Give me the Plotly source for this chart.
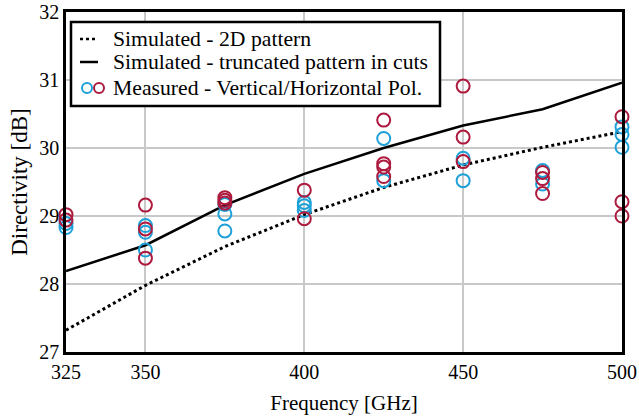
import plotly.graph_objects as go

freq_sim = [325, 350, 375, 400, 425, 450, 475, 500]
sim_2d = [27.32, 27.98, 28.55, 29.02, 29.42, 29.75, 30.01, 30.24]
sim_cuts = [28.19, 28.57, 29.16, 29.62, 30.0, 30.33, 30.57, 30.96]

meas_v_freq = [325, 325, 350, 350, 350, 375, 375, 375, 400, 400, 400, 425, 425, 450, 450, 475, 475, 500, 500, 500]
meas_v = [28.89, 28.83, 28.86, 28.76, 28.5, 29.17, 29.03, 28.78, 29.2, 29.15, 29.08, 30.14, 29.52, 29.85, 29.52, 29.67, 29.47, 30.31, 30.2, 30.01]

meas_h_freq = [325, 325, 350, 350, 350, 375, 375, 375, 400, 400, 425, 425, 425, 425, 450, 450, 450, 475, 475, 475, 500, 500, 500]
meas_h = [29.02, 28.94, 29.16, 28.81, 28.38, 29.27, 29.23, 29.19, 29.38, 28.96, 30.41, 29.77, 29.72, 29.58, 30.91, 30.16, 29.8, 29.64, 29.55, 29.33, 30.46, 29.21, 29.0]

x_ticks = [325, 350, 400, 450, 500]
y_ticks = [27, 28, 29, 30, 31, 32]

legend_labels = ["Simulated - 2D pattern", "Simulated - truncated pattern in cuts",
                 "Measured - Vertical/Horizontal Pol."]

BLUE = "#1ea0d8"
RED = "#ad1a3e"
FONT = "Liberation Serif"

fig = go.Figure()
fig.add_trace(go.Scatter(x=freq_sim, y=sim_2d, mode="lines",
                         line=dict(color="black", width=3, dash="dot"), showlegend=False))
fig.add_trace(go.Scatter(x=freq_sim, y=sim_cuts, mode="lines",
                         line=dict(color="black", width=2.5), showlegend=False))
fig.add_trace(go.Scatter(x=meas_v_freq, y=meas_v, mode="markers", cliponaxis=False,
                         marker=dict(symbol="circle-open", size=13, color=BLUE, line=dict(width=2)),
                         showlegend=False))
fig.add_trace(go.Scatter(x=meas_h_freq, y=meas_h, mode="markers", cliponaxis=False,
                         marker=dict(symbol="circle-open", size=13, color=RED, line=dict(width=2)),
                         showlegend=False))

# Manual legend (plot area: x 66..622 px, y 12..352 px)
def px(xp):
    return (xp - 66) / 556.0

def py(yp):
    return (352 - yp) / 340.0

shapes = []
shapes.append(dict(type="rect", xref="paper", yref="paper", x0=px(71), x1=px(440), y0=py(106), y1=py(22),
                   line=dict(color="black", width=2.5), fillcolor="white", layer="above"))
rows = [39, 62, 88]
shapes.append(dict(type="line", xref="paper", yref="paper", x0=px(80), x1=px(97), y0=py(rows[0]), y1=py(rows[0]),
                   line=dict(color="black", width=2.5, dash="dot"), layer="above"))
shapes.append(dict(type="line", xref="paper", yref="paper", x0=px(80), x1=px(98), y0=py(rows[1]), y1=py(rows[1]),
                   line=dict(color="black", width=2.5), layer="above"))
for cx, col in [(87, BLUE), (99, RED)]:
    shapes.append(dict(type="circle", xref="paper", yref="paper", xsizemode="pixel", ysizemode="pixel",
                       xanchor=px(cx), yanchor=py(rows[2]), x0=-5, x1=5, y0=-5, y1=5,
                       line=dict(color=col, width=2), layer="above"))
fig.update_layout(shapes=shapes)

annotations = []
for r, lab in zip(rows, legend_labels):
    annotations.append(dict(xref="paper", yref="paper", x=px(111), y=py(r), text=lab, showarrow=False,
                            xanchor="left", yanchor="middle", font=dict(family=FONT, size=21.7, color="black")))
fig.update_layout(annotations=annotations)

fig.update_layout(
    width=639, height=419,
    margin=dict(l=66, r=17, t=12, b=67),
    paper_bgcolor="white", plot_bgcolor="white",
    font=dict(family=FONT, size=20, color="black"),
    showlegend=False,
)
fig.update_xaxes(range=[325, 500], tickvals=x_ticks, ticktext=[str(v) for v in x_ticks],
                 showgrid=True, gridcolor="#c8c8c8", gridwidth=1.5,
                 showline=True, linecolor="black", linewidth=2.5, mirror=True,
                 ticks="", zeroline=False, automargin=False,
                 title=dict(text="Frequency [GHz]", font=dict(family=FONT, size=21), standoff=14),
                 tickfont=dict(family=FONT, size=20))
fig.update_yaxes(range=[27, 32], tickvals=y_ticks, ticktext=[str(v) for v in y_ticks],
                 showgrid=True, gridcolor="#c8c8c8", gridwidth=1.5,
                 showline=True, linecolor="black", linewidth=2.5, mirror=True,
                 ticks="", zeroline=False, automargin=False,
                 title=dict(text="Directivity [dB]", font=dict(family=FONT, size=23), standoff=6),
                 tickfont=dict(family=FONT, size=20))

fig.write_html("out.html", config={"displayModeBar": False},
               post_script="document.body.style.margin='0';document.body.style.overflow='hidden';")
